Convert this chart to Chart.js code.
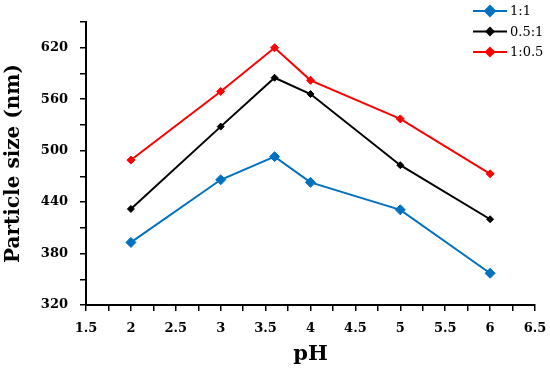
<!DOCTYPE html>
<html>
<head>
<meta charset="utf-8">
<script src="https://cdn.jsdelivr.net/npm/chart.js@4/dist/chart.umd.min.js"></script>
<style>
  html, body { margin: 0; padding: 0; background: #fff; }
  #wrap { width: 550px; height: 375px; }
</style>
</head>
<body>
<div id="wrap"><canvas id="c"></canvas></div>
<script>
// values
const PH = [2, 3, 3.6, 4, 5, 6];
const SIZE_1_1 = [393, 466, 493, 463, 431, 357];
const SIZE_05_1 = [432, 528, 585, 566, 483, 420];
const SIZE_1_05 = [489, 569, 620, 582, 537, 473];

const X_TICKS = [1.5, 1.75, 2, 2.25, 2.5, 2.75, 3, 3.25, 3.5, 3.75, 4, 4.25, 4.5, 4.75, 5, 5.25, 5.5, 5.75, 6, 6.25, 6.5];
const X_LABELS = ["1.5", "2", "2.5", "3", "3.5", "4", "4.5", "5", "5.5", "6", "6.5"];
const Y_TICKS = [320, 350, 380, 410, 440, 470, 500, 530, 560, 590, 620, 650];
const Y_LABELS = ["320", "380", "440", "500", "560", "620"];

const SERIES = [
  { label: "1:1", values: SIZE_1_1, color: "#0070C0", radius: 5 },
  { label: "0.5:1", values: SIZE_05_1, color: "#000000", radius: 3.5 },
  { label: "1:0.5", values: SIZE_1_05, color: "#FF0000", radius: 4 },
];

const SERIF = "'DejaVu Serif', 'Liberation Serif', serif";

// legend drawn inside the plot, top right, like the Excel original
const cornerLegend = {
  id: "cornerLegend",
  afterDraw(chart) {
    const ctx = chart.ctx;
    ctx.save();
    chart.data.datasets.forEach((ds, i) => {
      const y = 11 + i * 20.5;
      ctx.strokeStyle = ds.borderColor;
      ctx.lineWidth = 2;
      ctx.beginPath();
      ctx.moveTo(473, y);
      ctx.lineTo(507, y);
      ctx.stroke();
      ctx.fillStyle = ds.borderColor;
      Chart.helpers.drawPoint(ctx, { pointStyle: "rectRot", radius: ds.pointRadius, rotation: 0, borderWidth: 1 }, 490, y);
      ctx.fillStyle = "#000";
      ctx.font = "13px " + SERIF;
      ctx.textAlign = "left";
      ctx.textBaseline = "middle";
      ctx.fillText(ds.label, 510, y + 1);
    });
    ctx.restore();
  },
};

new Chart(document.getElementById("c"), {
  type: "line",
  data: {
    datasets: SERIES.map(s => ({
      label: s.label,
      data: PH.map((x, i) => ({ x: x, y: s.values[i] })),
      borderColor: s.color,
      backgroundColor: s.color,
      borderWidth: 2,
      pointStyle: "rectRot",
      pointRadius: s.radius,
      pointBorderWidth: 1,
      pointBackgroundColor: s.color,
      tension: 0,
      fill: false,
    })),
  },
  options: {
    responsive: true,
    maintainAspectRatio: false,
    animation: false,
    layout: { padding: { top: 22, right: 15, left: 0, bottom: 0 } },
    plugins: {
      legend: { display: false },
      tooltip: { enabled: false },
    },
    scales: {
      x: {
        type: "linear",
        min: 1.5,
        max: 6.5,
        afterBuildTicks: (scale) => { scale.ticks = X_TICKS.map(v => ({ value: v })); },
        afterFit: (scale) => {
          scale.height = 70;
          scale.paddingLeft = 0;
          scale.paddingRight = 0;
        },
        grid: { drawOnChartArea: false, drawTicks: true, tickLength: 6, color: "#000", lineWidth: 1.5 },
        border: { display: true, color: "#000", width: 2 },
        ticks: {
          autoSkip: false,
          maxRotation: 0,
          padding: 10,
          color: "#000",
          font: { family: SERIF, size: 13, weight: "bold" },
          callback: (v) => (X_LABELS.includes(String(v)) ? String(v) : ""),
        },
        title: {
          display: true,
          text: "pH",
          color: "#000",
          font: { family: SERIF, size: 21, weight: "bold" },
          padding: { top: 0, bottom: 8 },
        },
      },
      y: {
        min: 320,
        max: 650,
        afterBuildTicks: (scale) => { scale.ticks = Y_TICKS.map(v => ({ value: v })); },
        afterFit: (scale) => { scale.width = 86; },
        grid: { drawOnChartArea: false, drawTicks: true, tickLength: 6, color: "#000", lineWidth: 1.5 },
        border: { display: true, color: "#000", width: 2 },
        ticks: {
          autoSkip: false,
          padding: 12,
          color: "#000",
          font: { family: SERIF, size: 13, weight: "bold" },
          callback: (v) => (Y_LABELS.includes(String(v)) ? String(v) : ""),
        },
        title: {
          display: true,
          text: "Particle size (nm)",
          color: "#000",
          font: { family: SERIF, size: 20, weight: "bold" },
          padding: { top: 2, bottom: 0 },
        },
      },
    },
  },
  plugins: [cornerLegend],
});
</script>
</body>
</html>
